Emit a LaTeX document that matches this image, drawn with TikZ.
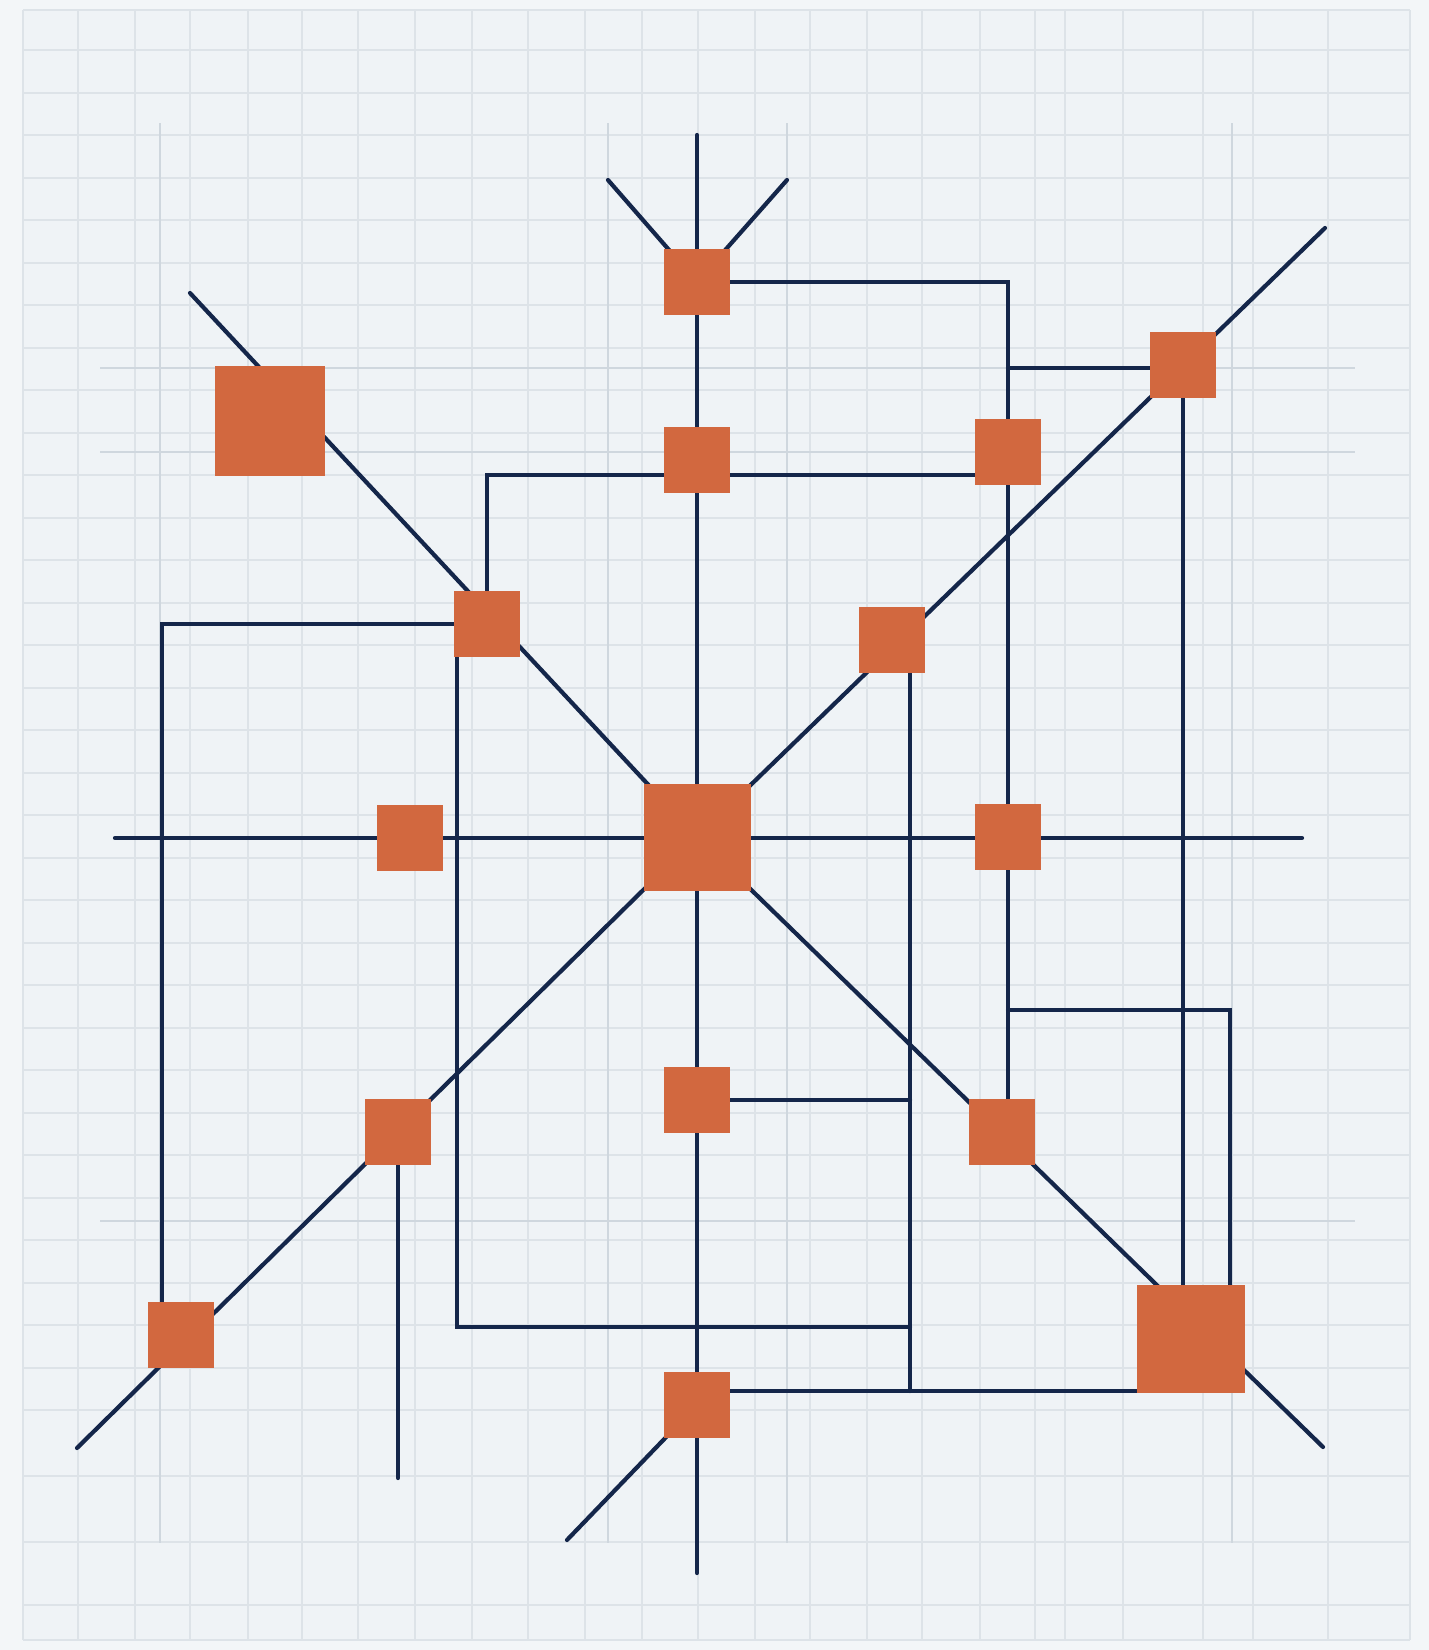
\documentclass[tikz,border=0pt]{standalone}
\pgfdeclarelayer{gridlayer}
\pgfdeclarelayer{linelayer}
\pgfsetlayers{gridlayer,linelayer,main}
\definecolor{bg}{HTML}{F3F6F8}
\definecolor{paper}{HTML}{EFF3F6}
\definecolor{gridc}{HTML}{DDE3E8}
\definecolor{gridd}{HTML}{CFD7DE}
\definecolor{navy}{HTML}{14264A}
\definecolor{rust}{HTML}{D2683F}
\begin{document}
\begin{tikzpicture}[x=0.5pt,y=-0.5pt,
  sq/.style={rectangle, fill=rust, draw=none, minimum size=33pt, inner sep=0pt},
  bigsq/.style={sq, minimum size=55pt},
  wire/.style={draw=navy, line width=2.1pt, line cap=round},
  gridline/.style={draw=gridc, line width=0.6pt},
  gridstrong/.style={draw=gridd, line width=0.6pt}]
\useasboundingbox (0,0) rectangle (1429,1650);

% ---------- nodes ----------
\node[sq] (s1) at (697,282) {};
\node[bigsq] (s2) at (270,421) {};
\node[sq] (s3) at (1183,365) {};
\node[sq] (s4) at (697,460) {};
\node[sq] (s5) at (1008,452) {};
\node[sq] (s6) at (487,624) {};
\node[sq] (s7) at (892,640) {};
\node[sq, minimum size=53.5pt] (s8) at (697,837) {};
\node[sq] (s9) at (410,838) {};
\node[sq] (s10) at (1008,837) {};
\node[sq] (s11) at (697,1100) {};
\node[sq] (s12) at (398,1132) {};
\node[sq] (s13) at (1002,1132) {};
\node[sq] (s14) at (181,1335) {};
\node[sq] (s15) at (697,1405) {};
\node[bigsq, minimum size=54pt] (s16) at (1191,1339) {};

% ---------- free ends and bends ----------
\coordinate (etop) at (697,135);
\coordinate (ebot) at (697,1573);
\coordinate (efanL) at (608,180);
\coordinate (efanR) at (787,180);
\coordinate (etl) at (190,293);
\coordinate (etr) at (1325,228);
\coordinate (ebl) at (77,1448);
\coordinate (ebr) at (1323,1447);
\coordinate (eleft) at (115,838);
\coordinate (eright) at (1302,838);
\coordinate (e12) at (398,1478);
\coordinate (e15) at (567,1540);
\coordinate (j1) at (1008,1010);
\coordinate (j2) at (1230,1010);
\coordinate (j3) at (1008,475);
\coordinate (j4) at (162,624);
\coordinate (j5) at (457,1327);
\coordinate (j6) at (910,1327);
\coordinate (j7) at (910,1391);
\coordinate (j8) at (1008,368);

% ---------- background grid ----------
\begin{pgfonlayer}{gridlayer}
\fill[bg] (0,0) rectangle (1429,1650);
\fill[paper] (23,10) rectangle (1410,1640);
\foreach \x in {23,78,135,190,248,302,358,415,472,528,585,642,698,755,810,867,922,980,1035,1065,1123,1203,1253,1328,1410}
  \draw[gridline] (\x,10) -- (\x,1640);
\foreach \y in {10,50,93,135,178,220,263,305,348,390,433,475,518,560,603,645,688,730,773,815,858,900,943,985,1028,1070,1113,1155,1198,1240,1283,1325,1368,1410,1476,1542,1605,1640}
  \draw[gridline] (23,\y) -- (1410,\y);
\foreach \x in {160,608,787,1232}
  \draw[gridstrong] (\x,123) -- (\x,1543);
\foreach \y in {368,452,1221}
  \draw[gridstrong] (100,\y) -- (1355,\y);
\end{pgfonlayer}

% ---------- connectors ----------
\begin{pgfonlayer}{linelayer}
\draw[wire] (etop) -- (ebot);
\draw[wire] (efanL) -- (s1.center);
\draw[wire] (efanR) -- (s1.center);
\draw[wire] (eleft) -- (eright);
\draw[wire] (s8.center) -- (etl);
\draw[wire] (s8.center) -- (etr);
\draw[wire] (s8.center) -- (ebl);
\draw[wire] (s8.center) -- (ebr);
\draw[wire] (s1.center) -| (s13.north -| s5.center);
\draw[wire] (s3.center |- j8) -- (j8);
\draw[wire] (s3.center) -- (s3.center |- s16.center);
\draw[wire] (j1) -- (j2) -- (j2 |- s16.center);
\draw[wire] (s6.center) |- (j3);
\draw[wire] (s6.center) -- (j4) -- (j4 |- s14.center);
\draw[wire] (s6.center -| j5) -- (j5) -- (j6);
\draw[wire] (s7.center -| j6) -- (j7);
\draw[wire] (s15.center |- j7) -- (s16.center |- j7);
\draw[wire] (s11.center) -- (s11.center -| j6);
\draw[wire] (s12.center) -- (e12);
\draw[wire] (s15.center) -- (e15);
\end{pgfonlayer}
\end{tikzpicture}
\end{document}
